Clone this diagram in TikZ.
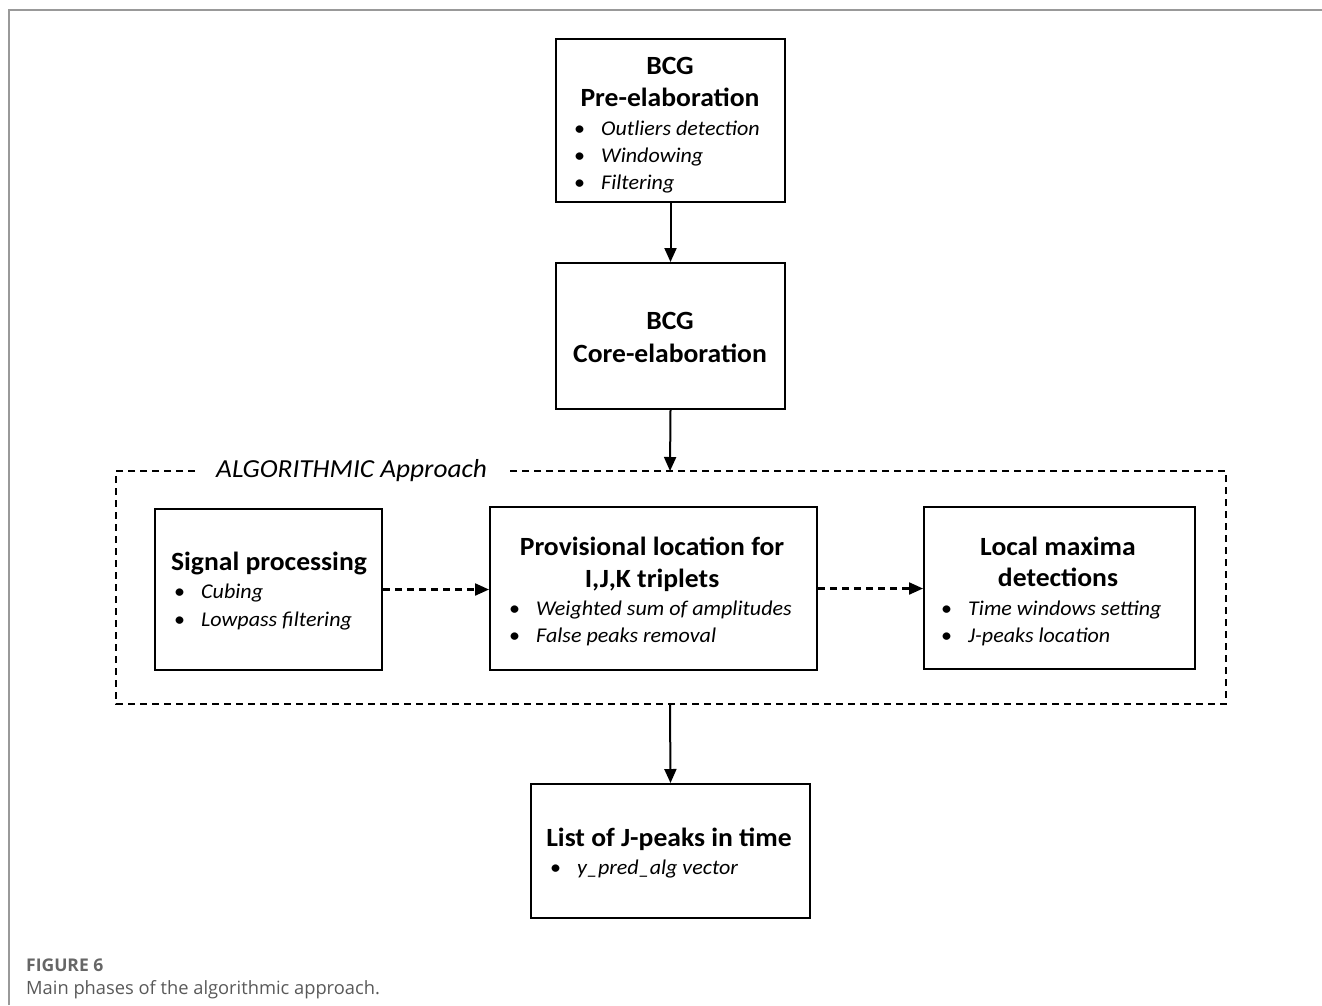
\documentclass[tikz,border=0pt]{standalone}
\usepackage{fontspec}
\setmainfont{Carlito}[FakeStretch=1.05]
\newfontfamily\capfont{Open Sans}
\usetikzlibrary{arrows.meta}
\tikzset{
  box/.style={draw=black, line width=2pt, rectangle, inner sep=0pt},
  ttl/.style={font=\fontsize{26.3}{30}\selectfont\bfseries, anchor=base, inner sep=0pt},
  itm/.style={font=\fontsize{21}{25}\selectfont\itshape, anchor=base west, inner sep=0pt},
  flow/.style={line width=2pt, -{Triangle[length=14pt,width=12pt]}},
  dflow/.style={line width=2.2pt, dash pattern=on 7pt off 5pt, -{Triangle[length=14pt,width=12pt]}},
  group/.style={line width=2.2pt, dash pattern=on 7pt off 5pt},
}
\newcommand{\bitem}[1]{\makebox[27pt][l]{\upshape\textbullet}#1}
\begin{document}
\begin{tikzpicture}[x=1pt,y=-1pt]
\useasboundingbox (0,0) rectangle (1322,1005);
% outer frame
\draw[gray!80, line width=1.5pt] (9,1005) -- (9,10) -- (1322,10);

% boxes
\node[box, minimum width=229pt, minimum height=163pt] (pre) at (670.5,120.5) {};
\node[box, minimum width=229pt, minimum height=146pt] (core) at (670.5,336) {};
\node[box, minimum width=227pt, minimum height=161pt] (sig) at (268.5,589.5) {};
\node[box, minimum width=327pt, minimum height=163pt] (prov) at (653.5,588.5) {};
\node[box, minimum width=271pt, minimum height=162pt] (loc) at (1059.5,588) {};
\node[box, minimum width=279pt, minimum height=134pt] (list) at (670.5,851) {};

% group (dashed)
\coordinate (gtl) at (116,471);
\coordinate (gbr) at (1226,704);
\coordinate (gin) at (670,471);
\coordinate (gout) at (670,704);
\node[font=\fontsize{26}{30}\selectfont\itshape, anchor=base west, inner sep=0pt] (galg) at (216,477) {ALGORITHMIC Approach};
\draw[group] (195,471) -- (gtl) -- (116,704) -- (gbr) -- (1226,471) -- (507,471);

% texts box 1
\node[ttl] (pre1) at (670,74) {BCG};
\node[ttl] (pre2) at (670,106) {Pre-elaboration};
\node[itm] (pre3) at (574,135) {\bitem{Outliers detection}};
\node[itm] (pre4) at (574,162) {\bitem{Windowing}};
\node[itm] (pre5) at (574,189) {\bitem{Filtering}};

% box 2
\node[ttl] (core1) at (670,329) {BCG};
\node[ttl] (core2) at (670,362) {Core-elaboration};

% box 3
\node[ttl] (sig1) at (269,570) {Signal processing};
\node[itm] (sig2) at (174,598) {\bitem{Cubing}};
\node[itm] (sig3) at (174,626) {\bitem{Lowpass filtering}};

% box 4
\node[ttl] (prov1) at (652,555) {Provisional location for};
\node[ttl] (prov2) at (652,587) {I,J,K triplets};
\node[itm] (prov3) at (509,615) {\bitem{Weighted sum of amplitudes}};
\node[itm] (prov4) at (509,642) {\bitem{False peaks removal}};

% box 5
\node[ttl] (loc1) at (1058,555) {Local maxima};
\node[ttl] (loc2) at (1058,586) {detections};
\node[itm] (loc3) at (941,615) {\bitem{Time windows setting}};
\node[itm] (loc4) at (941,642) {\bitem{J-peaks location}};

% box 6
\node[ttl] (list1) at (669,846) {List of J-peaks in time};
\node[itm] (list2) at (550,874) {\bitem{y\_pred\_alg vector}};

% connectors
\draw[flow] (pre.south) -- (core.north);
\draw[flow] (core.south) -- (gin);
\draw[flow] (gout) -- (list.north);
\draw[dflow] (sig.east) -- (sig.east -| prov.west);
\draw[dflow] (prov.east) -- (prov.east -| loc.west);

% caption
\node[font=\capfont\fontsize{17.5}{20}\selectfont\bfseries, text=black!60, anchor=base west, inner sep=0pt] (capa) at (26,971) {FIGURE 6};
\node[font=\capfont\fontsize{18.3}{21}\selectfont, text=black!65, anchor=base west, inner sep=0pt] (capb) at (26,994) {Main phases of the algorithmic approach.};
\end{tikzpicture}
\end{document}
